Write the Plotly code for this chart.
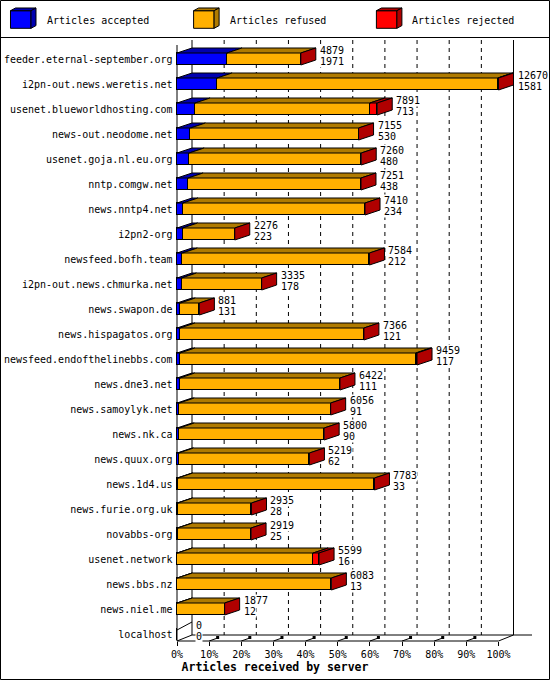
import plotly.graph_objects as go

# ---------------- data ----------------
names = ["feeder.eternal-september.org", "i2pn-out.news.weretis.net",
         "usenet.blueworldhosting.com", "news-out.neodome.net",
         "usenet.goja.nl.eu.org", "nntp.comgw.net", "news.nntp4.net",
         "i2pn2-org", "newsfeed.bofh.team", "i2pn-out.news.chmurka.net",
         "news.swapon.de", "news.hispagatos.org", "newsfeed.endofthelinebbs.com",
         "news.dne3.net", "news.samoylyk.net", "news.nk.ca", "news.quux.org",
         "news.1d4.us", "news.furie.org.uk", "novabbs-org", "usenet.network",
         "news.bbs.nz", "news.niel.me", "localhost"]
offered = [4879, 12670, 7891, 7155, 7260, 7251, 7410, 2276, 7584, 3335, 881,
           7366, 9459, 6422, 6056, 5800, 5219, 7783, 2935, 2919, 5599, 6083,
           1877, 0]
accepted = [1971, 1581, 713, 530, 480, 438, 234, 223, 212, 178, 131, 121, 117,
            111, 91, 90, 62, 33, 28, 25, 16, 13, 12, 0]
rejected = [0, 30, 290, 0, 0, 0, 0, 0, 0, 0, 0, 0, 50, 0, 0, 0, 0, 0, 0, 0,
            235, 0, 0, 0]
series_names = ["Articles accepted", "Articles refused", "Articles rejected"]
pct_ticks = [0, 10, 20, 30, 40, 50, 60, 70, 80, 90, 100]
axis_title = "Articles received by server"

refused = [o - a - r for o, a, r in zip(offered, accepted, rejected)]
scale = 100.0 / max(offered)
acc_p = [v * scale for v in accepted]
ref_p = [v * scale for v in refused]
rej_p = [v * scale for v in rejected]
tot_p = [v * scale for v in offered]
rows = list(range(len(names)))

# ---------------- geometry (pixel <-> data) ----------------
W, H = 550, 680
X0, SX = 177.0, 3.215      # px of 0 %, px per %
Y0, SY = 59.0, 25.0        # px of first row centre, px per row


def px2x(p):
    return (p - X0) / SX


def py2y(p):
    return (p - Y0) / SY


def pxp(p):
    return p / W


def pyp(p):
    return 1 - p / H


DX = 15 / SX
DY = 5 / SY
HALF = 6 / SY
FONT = "DejaVu Sans Mono"

front = ["#0000ff", "#ffb000", "#ff0000"]
dark = ["#0000b0", "#b07b00", "#b00000"]

fig = go.Figure()

# front faces
for vals, name, col in zip([acc_p, ref_p, rej_p], series_names, front):
    fig.add_trace(go.Bar(y=rows, x=vals, orientation="h", width=2 * HALF,
                         name=name, marker=dict(color=col, line=dict(color="black", width=1)),
                         showlegend=False, hoverinfo="skip"))

# top faces
starts = [[0.0] * len(rows), acc_p, [a + f for a, f in zip(acc_p, ref_p)]]
widths = [acc_p, ref_p, rej_p]
for k in range(3):
    xs, ys = [], []
    for r in rows:
        s = starts[k][r]
        e = s + widths[k][r]
        if widths[k][r] <= 0:
            continue
        yt = r - HALF
        xs += [s, e, e + DX, s + DX, s, None]
        ys += [yt, yt, yt - DY, yt - DY, yt, None]
    fig.add_trace(go.Scatter(x=xs, y=ys, mode="lines", fill="toself", fillcolor=dark[k],
                             line=dict(color="black", width=1), showlegend=False,
                             hoverinfo="skip"))

# side faces (empty rows only get the top edge)
xs, ys = [], []
ex, ey = [], []
for r in rows:
    t = tot_p[r]
    if offered[r] <= 0:
        ex += [t, t + DX, None]
        ey += [r - HALF + 2 / SY, r - HALF - 6 / SY, None]
        continue
    xs += [t, t + DX, t + DX, t, t, None]
    ys += [r - HALF, r - HALF - DY, r + HALF - DY, r + HALF, r - HALF, None]
fig.add_trace(go.Scatter(x=xs, y=ys, mode="lines", fill="toself", fillcolor=dark[2],
                         line=dict(color="black", width=1), showlegend=False,
                         hoverinfo="skip", xaxis="x", yaxis="y2"))
fig.add_trace(go.Scatter(x=ex, y=ey, mode="lines", line=dict(color="black", width=1),
                         showlegend=False, hoverinfo="skip"))

# 3D tick stubs on the floor (on the free x axis)
tx, ty = [], []
for v in pct_ticks[1:-1]:
    tx += [v, v + 8.5 / SX, None]
    ty += [py2y(641), py2y(638), None]
fig.add_trace(go.Scatter(x=tx, y=ty, mode="lines", line=dict(color="black", width=1),
                         showlegend=False, hoverinfo="skip", xaxis="x2", yaxis="y"))
fig.add_trace(go.Scatter(x=[v + 8.5 / SX for v in pct_ticks[1:-1]],
                         y=[py2y(637.5)] * (len(pct_ticks) - 2), mode="markers",
                         marker=dict(symbol="square", size=3, color="black"),
                         showlegend=False, hoverinfo="skip"))

# ---------------- background wall / floor lines ----------------
shapes = []
ytop_back, ytop_front = py2y(40), py2y(45)
yfl_back, yfl_front = py2y(635), py2y(641)
for v in pct_ticks[1:-1]:
    shapes.append(dict(type="line", xref="x", yref="y", x0=v + DX, x1=v + DX,
                       y0=ytop_back, y1=yfl_back, layer="below",
                       line=dict(color="black", width=1, dash="4px,4px")))
solid = [
    (DX, ytop_back, DX, yfl_back),
    (0, ytop_front, 0, yfl_front),
    (100 + DX, ytop_back, 100 + DX, yfl_back),
    (0, yfl_front, 100, yfl_front),
    (100, yfl_front, 100 + DX, yfl_back),
    (DX, yfl_back, px2x(532), yfl_back),
    (0, yfl_front, DX, yfl_back),
]
for x0, y0, x1, y1 in solid:
    shapes.append(dict(type="line", xref="x", yref="y", x0=x0, y0=y0, x1=x1, y1=y1,
                       layer="below", line=dict(color="black", width=1)))

# frame + legend box
shapes.append(dict(type="rect", xref="paper", yref="paper", x0=pxp(0.5), x1=pxp(549.5),
                   y0=pyp(679.5), y1=pyp(0.5), line=dict(color="black", width=1)))
shapes.append(dict(type="line", xref="paper", yref="paper", x0=pxp(0), x1=pxp(550),
                   y0=pyp(37.5), y1=pyp(37.5), line=dict(color="black", width=1)))

annotations = []
legend_x = [10.5, 193.6, 376.4]


def path(pts):
    return "M " + " L ".join(f"{pxp(a):.5f},{pyp(b):.5f}" for a, b in pts) + " Z"


for k in range(3):
    lx = legend_x[k]
    fx0, fx1, fy0, fy1 = lx, lx + 20.5, 10.7, 28.3
    ddx, ddy = 5, 2.7
    shapes.append(dict(type="path", xref="paper", yref="paper",
                       path=path([(fx0, fy0), (fx1, fy0), (fx1, fy1), (fx0, fy1)]),
                       fillcolor=front[k], line=dict(color="black", width=1)))
    shapes.append(dict(type="path", xref="paper", yref="paper",
                       path=path([(fx0, fy0), (fx0 + ddx, fy0 - ddy), (fx1 + ddx, fy0 - ddy), (fx1, fy0)]),
                       fillcolor=dark[k], line=dict(color="black", width=1)))
    shapes.append(dict(type="path", xref="paper", yref="paper",
                       path=path([(fx1, fy0), (fx1 + ddx, fy0 - ddy), (fx1 + ddx, fy1 - ddy), (fx1, fy1)]),
                       fillcolor=dark[k], line=dict(color="black", width=1)))
    annotations.append(dict(xref="paper", yref="paper", x=pxp(lx + 34), y=pyp(20),
                            xanchor="left", yanchor="middle", showarrow=False,
                            text=series_names[k], font=dict(family=FONT, size=10, color="black")))

# value labels
for r in rows:
    lx = tot_p[r] + DX + 3 / SX
    for txt, off in [(str(offered[r]), -8.5), (str(accepted[r]), 2.5)]:
        annotations.append(dict(xref="x", yref="y", x=lx, y=r + off / SY,
                                xanchor="left", yanchor="middle", showarrow=False,
                                text=txt, bgcolor="white", borderpad=0,
                                font=dict(family=FONT, size=10, color="black")))

fig.update_layout(
    width=W, height=H, margin=dict(l=0, r=0, t=0, b=0),
    paper_bgcolor="white", plot_bgcolor="white",
    barmode="stack", bargap=0,
    shapes=shapes, annotations=annotations,
    xaxis=dict(range=[px2x(0), px2x(W)], visible=False, fixedrange=True),
    yaxis=dict(range=[py2y(H), py2y(0)], visible=False, fixedrange=True),
    xaxis2=dict(range=[px2x(0), px2x(W)], overlaying="x", anchor="free",
                position=pyp(641), side="bottom", showgrid=False, zeroline=False,
                showline=False, tickmode="array", tickvals=pct_ticks,
                ticktext=[f"{v}%" for v in pct_ticks], ticks="outside", ticklen=4,
                tickcolor="black", tickwidth=1, fixedrange=True,
                tickfont=dict(family=FONT, size=10, color="black"),
                title=dict(text=f"<b>{axis_title}</b>", standoff=0,
                           font=dict(family=FONT, size=11.5, color="black"))),
    yaxis2=dict(range=[py2y(H), py2y(0)], overlaying="y", anchor="free",
                position=pxp(172.5), side="left", showgrid=False, zeroline=False,
                showline=False, tickmode="array", tickvals=rows, ticktext=names,
                ticks="", fixedrange=True,
                tickfont=dict(family=FONT, size=10, color="black")),
)

fig.write_html("out.html", config={"displayModeBar": False},
               post_script="document.body.style.margin='0';")
